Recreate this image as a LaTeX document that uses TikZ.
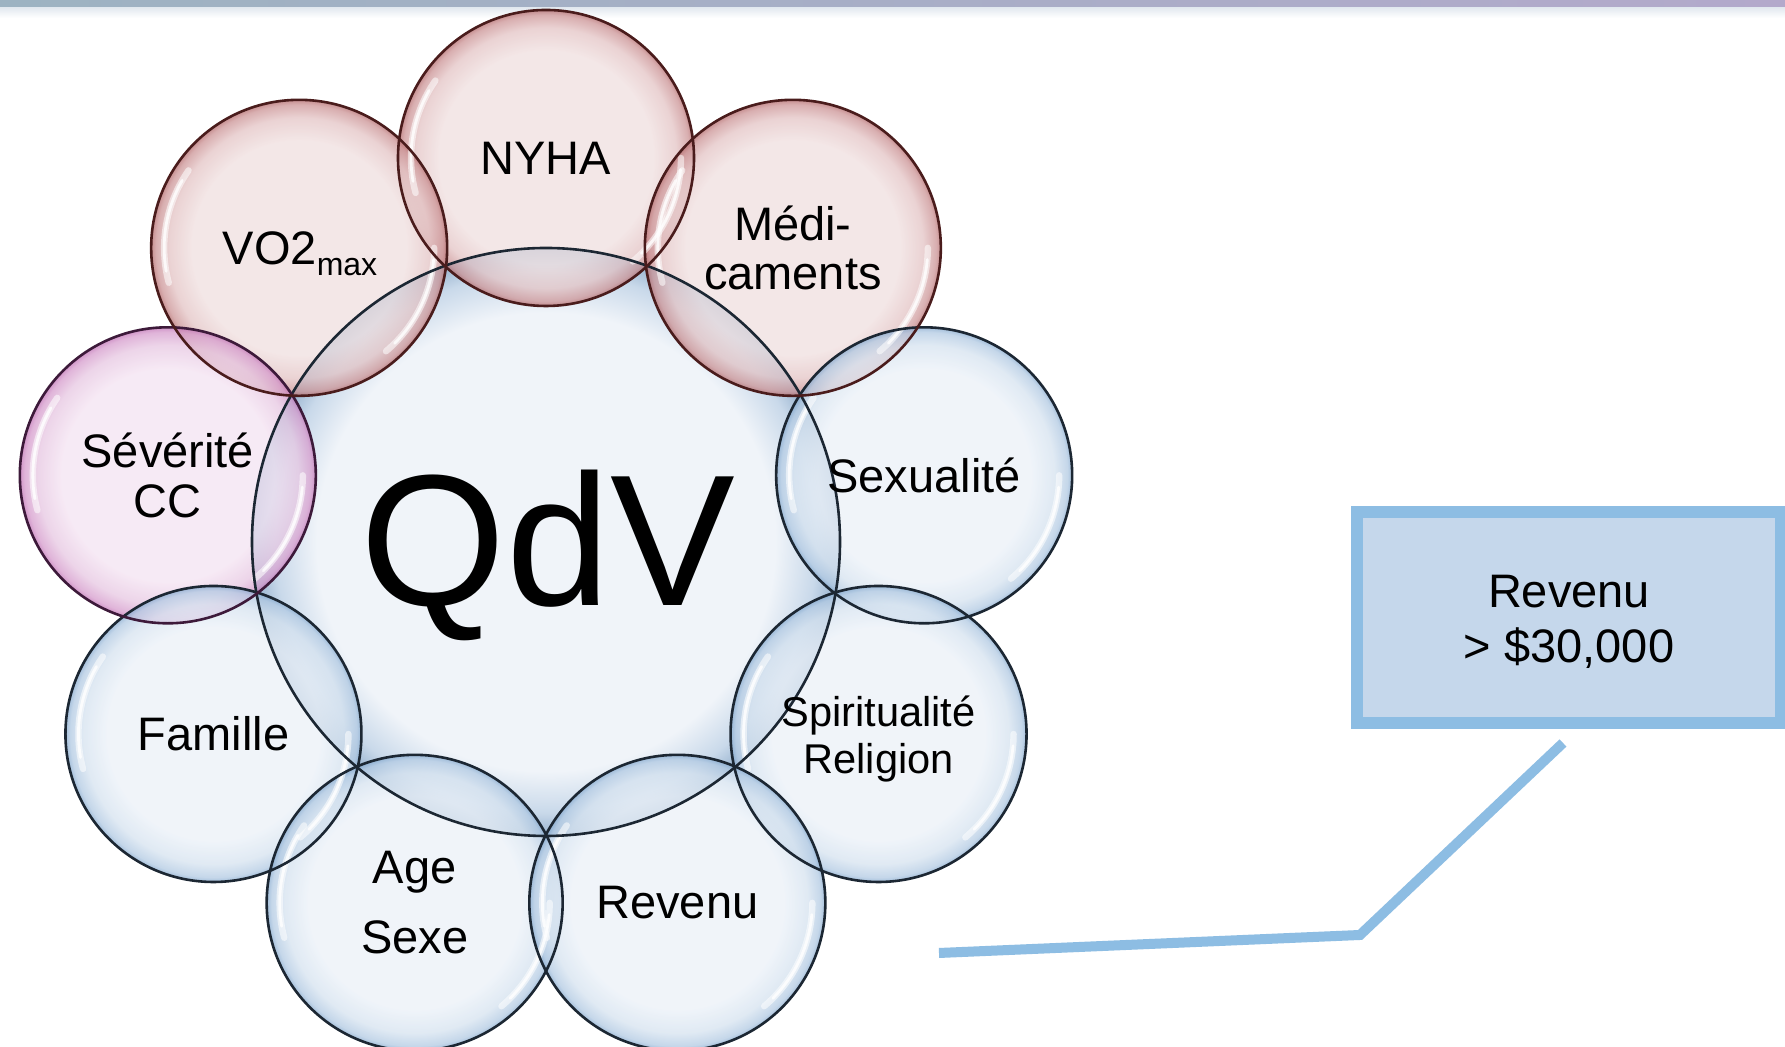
\documentclass[tikz,border=0pt]{standalone}
\usepackage{fontspec}
\setmainfont{Liberation Sans}
\usetikzlibrary{calc}
\definecolor{bC}{HTML}{EBF1F8}
\definecolor{bM}{HTML}{D6E3F0}
\definecolor{bR}{HTML}{B2CAE3}
\definecolor{bE}{HTML}{86AACF}
\definecolor{rC}{HTML}{F0E0E0}
\definecolor{rM}{HTML}{E4C4C5}
\definecolor{rR}{HTML}{CC9496}
\definecolor{rE}{HTML}{B46A6C}
\definecolor{pC}{HTML}{F4E3F2}
\definecolor{pM}{HTML}{E7C7E2}
\definecolor{pR}{HTML}{D69CCD}
\definecolor{pE}{HTML}{C172B6}
\definecolor{cC}{HTML}{F0F4F9}
\definecolor{cM}{HTML}{C9D9EA}
\definecolor{cE}{HTML}{98B3CF}
\definecolor{blueLine}{HTML}{1C2733}
\definecolor{redLine}{HTML}{4A1C1C}
\definecolor{purpleLine}{HTML}{3D1A3A}
\definecolor{boxFill}{HTML}{C5D7EB}
\definecolor{boxLine}{HTML}{8DBDE3}
\definecolor{bandL}{HTML}{9DB3C2}
\definecolor{bandR}{HTML}{B3A9CB}
\definecolor{bandF}{HTML}{E4EAF0}
\pgfdeclareradialshading{bubBlue}{\pgfpoint{0bp}{0bp}}{color(0bp)=(bC); color(18bp)=(bC); color(22bp)=(bM); color(24.2bp)=(bR); color(25bp)=(bE); color(50bp)=(bE)}
\pgfdeclareradialshading{bubRed}{\pgfpoint{0bp}{0bp}}{color(0bp)=(rC); color(18bp)=(rC); color(22bp)=(rM); color(24.2bp)=(rR); color(25bp)=(rE); color(50bp)=(rE)}
\pgfdeclareradialshading{bubPurple}{\pgfpoint{0bp}{0bp}}{color(0bp)=(pC); color(18bp)=(pC); color(22bp)=(pM); color(24.2bp)=(pR); color(25bp)=(pE); color(50bp)=(pE)}
\pgfdeclareradialshading{bubCore}{\pgfpoint{0bp}{0bp}}{color(0bp)=(cC); color(19.5bp)=(cC); color(23bp)=(cM); color(25bp)=(cE); color(50bp)=(cE)}
\tikzset{
  bubble/.style={circle, minimum size=148pt, inner sep=0pt, shade, fill opacity=0.75},
  outline/.style={line width=1.3pt},
  lab/.style={align=center, inner sep=0pt, text=black, font=\fontsize{23.5}{25}\selectfont},
  glint/.style={white, line width=3.2pt, opacity=0.55, line cap=round},
  glintcore/.style={white, line width=1.4pt, opacity=0.8, line cap=round}
}
\begin{document}
\begin{tikzpicture}[x=0.5pt,y=0.5pt]
\clip (0,0) rectangle (1785,1047);
\fill[white] (0,0) rectangle (1785,1047);
\shade[left color=bandL, right color=bandR] (0,1039) rectangle (1785,1047);
\shade[top color=bandF, bottom color=white] (0,1029) rectangle (1785,1039);

\coordinate (C) at (546,505);
\node[circle, minimum size=294pt, inner sep=0pt, shade, shading=bubCore] (core) at (C) {};

\node[bubble, shading=bubRed] (nyha) at ($(C)+(90:384)$) {};
\node[bubble, shading=bubRed] (vo) at ($(C)+(130:384)$) {};
\node[bubble, shading=bubRed] (medi) at ($(C)+(50:384)$) {};
\node[bubble, shading=bubPurple] (sev) at ($(C)+(170:384)$) {};
\node[bubble, shading=bubBlue] (sex) at ($(C)+(10:384)$) {};
\node[bubble, shading=bubBlue] (fam) at ($(C)+(210:384)$) {};
\node[bubble, shading=bubBlue] (spi) at ($(C)+(330:384)$) {};
\node[bubble, shading=bubBlue] (age) at ($(C)+(250:384)$) {};
\node[bubble, shading=bubBlue] (rev) at ($(C)+(290:384)$) {};

\foreach \nm in {nyha,vo,medi,sev,sex,fam,spi,age,rev}{
  \draw[glint] ($(\nm)+(145:135)$) arc[start angle=145, end angle=195, radius=135];
  \draw[glint] ($(\nm)+(-50:135)$) arc[start angle=-50, end angle=0, radius=135];
  \draw[glintcore] ($(\nm)+(150:135)$) arc[start angle=150, end angle=190, radius=135];
  \draw[glintcore] ($(\nm)+(-45:135)$) arc[start angle=-45, end angle=-5, radius=135];
}

\draw[outline, draw=blueLine] (core) circle[radius=294];
\foreach \nm/\col in {sex/blueLine,fam/blueLine,spi/blueLine,age/blueLine,rev/blueLine,sev/purpleLine,nyha/redLine,vo/redLine,medi/redLine}
  \draw[outline, draw=\col] (\nm) circle[radius=148];

\node[inner sep=0pt, anchor=base, font=\fontsize{93.5}{100}\selectfont] (qdv) at (548,441) {QdV};
\node[lab] (tnyha) at (nyha) {NYHA};
\node[lab, anchor=base] (tvo) at (300,782) {VO2\raisebox{-5.5pt}{\fontsize{16}{16}\selectfont max}};
\node[lab, font=\fontsize{23.5}{24.35}\selectfont] (tmedi) at (medi) {Médi-\\caments};
\node[lab, font=\fontsize{23.5}{25}\selectfont] (tsev) at (sev) {Sévérité\\CC};
\node[lab] (tsex) at (sex) {Sexualité};
\node[lab] (tfam) at (fam) {Famille};
\node[lab, font=\fontsize{20.8}{23.2}\selectfont] (tspi) at ($(spi)+(0,-5)$) {Spiritualité\\Religion};
\node[lab, font=\fontsize{23.5}{35}\selectfont] (tage) at (age) {Age\\Sexe};
\node[lab] (trev) at (rev) {Revenu};

\node[draw=boxLine, fill=boxFill, line width=6pt, minimum width=212pt, minimum height=105.5pt, inner sep=0pt] (box) at (1569,429.5) {};
\node[lab, font=\fontsize{23.5}{27.5}\selectfont] (boxtext) at (1569,425) {Revenu\\> \$30,000};

\coordinate (lnA) at (939,94);
\coordinate (lnB) at (1360,112);
\coordinate (lnC) at (1563,304);
\draw[boxLine, line width=5pt] (lnA) -- (lnB) -- (lnC);
\end{tikzpicture}
\end{document}
